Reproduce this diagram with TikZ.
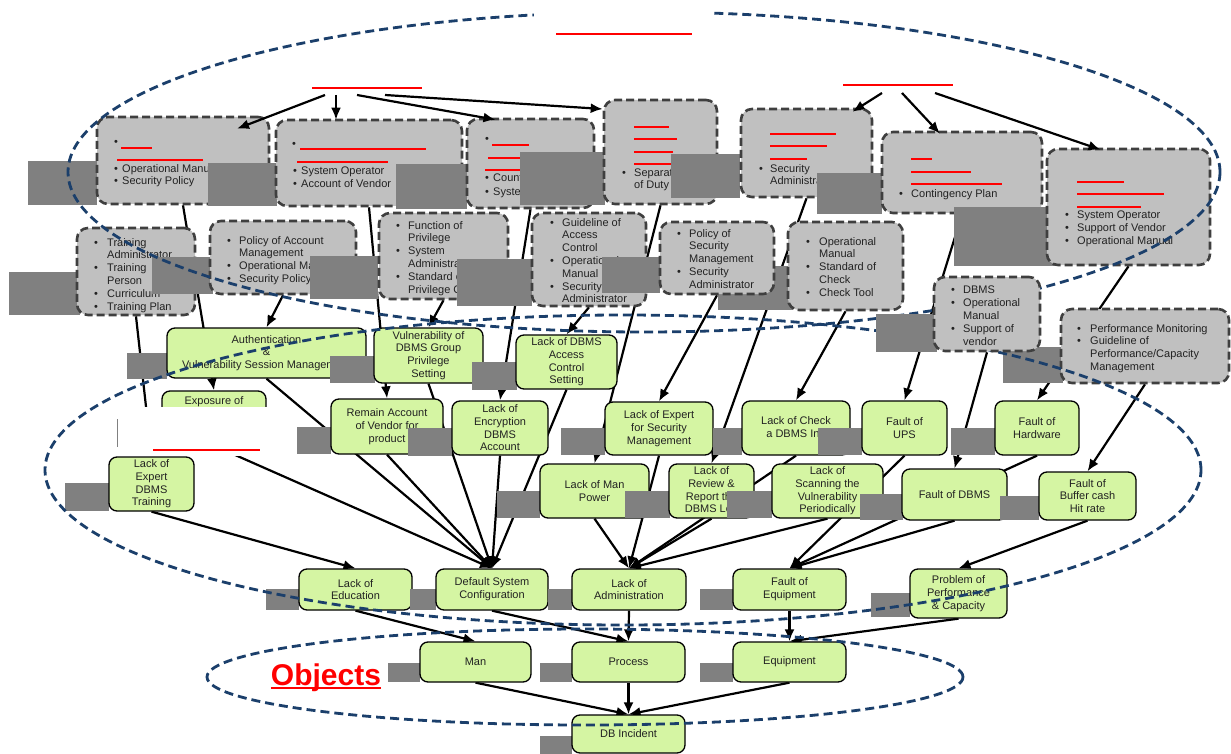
\documentclass[tikz,border=0pt]{standalone}
\usepackage{fontspec}
\setmainfont{Liberation Sans}
\usetikzlibrary{arrows.meta}
\definecolor{gfill}{HTML}{C0C0C0}
\definecolor{gline}{HTML}{3F3F3F}
\definecolor{dkc}{HTML}{808080}
\definecolor{lgreen}{HTML}{D5F5A3}
\definecolor{ellblue}{HTML}{1B3F6B}
\definecolor{txtc}{HTML}{222222}
\pgfdeclarelayer{bg}
\pgfsetlayers{bg,main}
\tikzset{
 gb/.style={draw=gline, fill=gfill, line width=2.6pt, dash pattern=on 8pt off 4pt, rounded corners=11pt, inner sep=0pt},
 gn/.style={draw=black, fill=lgreen, line width=1.3pt, rounded corners=8pt, inner sep=1pt, align=center, text=txtc, font=\fontsize{11}{12.7}\selectfont},
 lst/.style={anchor=north west, inner sep=0pt, align=left, text=txtc, font=\fontsize{11}{12.8}\selectfont},
 gt/.style={inner sep=0pt, text=txtc, font=\fontsize{11}{12.7}\selectfont},
 arr/.style={line width=2.2pt, -{Latex[length=12pt,width=10pt]}},
 ell/.style={draw=ellblue, line width=2.8pt, dash pattern=on 9pt off 5pt},
 redl/.style={draw=red, line width=1.4pt},
}
\newcommand\dkrect[4]{\fill[dkc] (#1,#2) rectangle (#3,#4);}
\newcommand\redln[4][1.4pt]{\draw[redl, line width=#1] (#2,#4) -- (#3,#4);}
\newcommand\grbox[5]{\node[gb, minimum width={(#4)-(#2)}, minimum height={(#5)-(#3)}] (#1) at ({((#2)+(#4))/2},{((#3)+(#5))/2}) {};}
\newcommand\grnode[6]{\node[gn, minimum width={(#4)-(#2)}, minimum height={(#5)-(#3)}] (#1) at ({((#2)+(#4))/2},{((#3)+(#5))/2}) {#6};}
\newcommand\bulx[1][10pt]{\makebox[#1][l]{\textbullet}}
\newcommand\indx[1][10pt]{\hspace*{#1}}
\begin{document}
\begin{tikzpicture}[x=1pt,y=-1pt]
\useasboundingbox (0,0) rectangle (1231,754);
\begin{pgfonlayer}{bg}\fill[white] (0,0) rectangle (1231,754);\end{pgfonlayer}

% ---------- top row of gray boxes
\dkrect{28}{161}{97}{205}
\grbox{g1}{97}{117}{269}{204}
\node[gt] (g1b) at (116,143) {\textbullet};
\redln{121}{152}{148}\redln{117}{203}{160}
\node[lst] (g1l) at (114,164) {\bulx[8pt]Operational Manual\\\bulx[8pt]Security Policy};
\dkrect{208}{163}{277}{206}
\grbox{g2}{276}{120}{462}{206}
\node[gt] (g2b) at (294,145) {\textbullet};
\redln{300}{426}{149}\redln{297}{388}{162}
\node[lst] (g2l) at (293,167) {\bulx[8pt]System Operator\\\bulx[8pt]Account of Vendor};
\dkrect{396}{164}{467}{209}
\grbox{g3}{467}{119}{594}{208}
\node[gt] (g3b) at (487,140) {\textbullet};
\redln{492}{529}{145}\redln{488}{530}{158}\redln{485}{530}{170}
\node[lst] (g3l) at (485,174) {\bulx[8pt]Count\\[1pt]\bulx[8pt]System};
\dkrect{520}{152}{605}{205}
\grbox{g4}{604}{100}{717}{204}
\redln{634}{669}{127}\redln{634}{677}{139}\redln{634}{673}{152}\redln{634}{680}{164}
\node[lst] (g4l) at (622,168) {\bulx[12pt]Separation\\\indx[12pt]of Duty};
\dkrect{671}{154}{740}{198}
\grbox{g5}{741}{109}{872}{197}
\redln{770}{836}{134}\redln{770}{827}{146}\redln{770}{807}{159}
\node[lst] (g5l) at (759,164) {\bulx[11pt]Security\\\indx[11pt]Administrator};
\dkrect{817}{173}{882}{214}
\grbox{g6}{882}{132}{1042}{213}
\redln{911}{932}{159}\redln{911}{971}{172}\redln{911}{1002}{184}
\node[lst] (g6l) at (899,189) {\bulx[12pt]Contingency Plan};
\dkrect{954}{207}{1058}{266}
\grbox{g7}{1047}{149}{1210}{265}
\redln{1077}{1124}{182}\redln{1077}{1164}{194}\redln{1077}{1141}{207}
\node[lst] (g7l) at (1065,211) {\bulx[12pt]System Operator\\\bulx[12pt]Support of Vendor\\\bulx[12pt]Operational Manual};

% title arrows
\coordinate (tl1) at (325,95);
\coordinate (tl2) at (336,95);
\coordinate (tl3) at (357,95);
\coordinate (tl4) at (385,95);
\coordinate (tr1) at (882,93);
\coordinate (tr2) at (902,93);
\coordinate (tr3) at (935,93);
\draw[arr] (tl1) -- ([shift={(54,13)}]g1.north);
\draw[arr] (tl2) -- ([shift={(-33,1)}]g2.north);
\draw[arr] (tl3) -- ([shift={(-35,2)}]g3.north);
\draw[arr] (tl4) -- ([shift={(0,-43)}]g4.west);
\draw[arr] (tr1) -- ([shift={(46,4)}]g5.north);
\draw[arr] (tr2) -- ([shift={(-22,3)}]g6.north);
\draw[arr] (tr3) -- ([shift={(-28,2)}]g7.north);

% ---------- second row of gray boxes
\dkrect{9}{272}{80}{315}
\grbox{h1}{77}{228}{195}{315}
\node[lst] (h1l) at (94,238) {\bulx[13pt]Training\\\indx[13pt]Administrator\\\bulx[13pt]Training\\\indx[13pt]Person\\\bulx[13pt]Curriculum\\\bulx[13pt]Training Plan};
\dkrect{152}{257}{213}{294}
\grbox{h2}{210}{221}{356}{294}
\node[lst] (h2l) at (227,236) {\bulx[12pt]Policy of Account\\\indx[12pt]Management\\\bulx[12pt]Operational Manual\\\bulx[12pt]Security Policy};
\dkrect{310}{256}{378}{299}
\grbox{h3}{379}{213}{508}{299}
\node[lst] (h3l) at (396,221) {\bulx[12pt]Function of\\\indx[12pt]Privilege\\\bulx[12pt]System\\\indx[12pt]Administrator\\\bulx[12pt]Standard of\\\indx[12pt]Privilege C};
\dkrect{457}{259}{532}{306}
\grbox{h4}{532}{213}{646}{306}
\node[lst] (h4l) at (550,218) {\bulx[12pt]Guideline of\\\indx[12pt]Access\\\indx[12pt]Control\\\bulx[12pt]Operational\\\indx[12pt]Manual\\\bulx[12pt]Security\\\indx[12pt]Administrator};
\dkrect{602}{257}{660}{293}
\dkrect{718}{266}{793}{310}
\grbox{h5}{660}{222}{774}{294}
\node[lst] (h5l) at (677,229) {\bulx[12pt]Policy of\\\indx[12pt]Security\\\indx[12pt]Management\\\bulx[12pt]Security\\\indx[12pt]Administrator};
\grbox{h6}{788}{222}{903}{310}
\node[lst] (h6l) at (806,237) {\bulx[13pt]Operational\\\indx[13pt]Manual\\\bulx[13pt]Standard of\\\indx[13pt]Check\\\bulx[13pt]Check Tool};
\dkrect{1003}{347}{1063}{383}
\grbox{h8}{1061}{309}{1229}{383}
\node[lst] (h8l) at (1077,324) {\bulx[13pt]Performance Monitoring\\\bulx[13pt]Guideline of\\\indx[13pt]Performance/Capacity\\\indx[13pt]Management};

% ---------- green nodes
\dkrect{127}{353}{167}{379}
\grnode{n1}{167}{328}{366}{378}{Authentication\\\&\\Vulnerability Session Management}
\dkrect{330}{356}{375}{383}
\grnode{n2}{374}{328}{483}{383}{Vulnerability of\\DBMS Group\\Privilege\\Setting}
\dkrect{472}{362}{517}{390}
\grnode{n3}{516}{335}{617}{389}{Lack of DBMS\\Access\\Control\\Setting}
\grnode{n4}{162}{391}{266}{445}{}
\node[gt] (n4t) at (214,402) {Exposure of};
\dkrect{296}{427}{331}{454}
\grnode{n5}{331}{399}{443}{454}{Remain Account\\of Vendor for\\product}
\dkrect{408}{428}{452}{456}
\grnode{n6}{452}{401}{548}{455}{Lack of\\Encryption\\DBMS\\Account}
\dkrect{561}{428}{605}{455}
\grnode{n7}{605}{402}{713}{455}{Lack of Expert\\for Security\\Management}
\dkrect{713}{428}{742}{455}
\grnode{n8}{742}{401}{850}{455}{Lack of Check\\a DBMS Inp}
\dkrect{818}{428}{862}{455}
\grnode{n9}{862}{401}{947}{455}{Fault of\\UPS}
\dkrect{951}{428}{995}{455}
\grnode{n10}{995}{401}{1079}{455}{Fault of\\Hardware}
\fill[white] (117,407) rectangle (297,456);
\draw[dkc, line width=0.8pt] (117,419) -- (117,447);
\dkrect{65}{483}{109}{511}
\grnode{n11}{109}{457}{194}{511}{Lack of\\Expert\\DBMS\\Training}
\dkrect{497}{491}{540}{518}
\grnode{n12}{540}{464}{649}{518}{Lack of Man\\Power}
\dkrect{625}{491}{670}{518}
\grnode{n13}{669}{464}{754}{518}{Lack of\\Review \&\\Report the\\DBMS Log}
\dkrect{727}{491}{772}{518}
\grnode{n14}{772}{464}{883}{518}{Lack of\\Scanning the\\Vulnerability\\Periodically}
\dkrect{860}{494}{903}{520}
\grnode{n15}{902}{469}{1007}{520}{Fault of DBMS}
\dkrect{1000}{496}{1039}{520}
\grnode{n16}{1039}{472}{1136}{520}{Fault of\\Buffer cash\\Hit rate}
\dkrect{266}{589}{299}{610}
\grnode{n17}{299}{569}{412}{610}{Lack of\\Education}
\dkrect{410}{589}{436}{610}
\grnode{n18}{436}{569}{548}{610}{Default System\\Configuration}
\dkrect{548}{589}{572}{610}
\grnode{n19}{572}{569}{686}{610}{Lack of\\Administration}
\dkrect{700}{589}{733}{610}
\grnode{n20}{733}{569}{846}{610}{Fault of\\Equipment}
\dkrect{871}{593}{910}{617}
\grnode{n21}{910}{569}{1007}{618}{Problem of\\Performance\\\& Capacity}
\dkrect{388}{663}{420}{682}
\grnode{man}{420}{642}{531}{682}{Man}
\dkrect{540}{663}{572}{682}
\grnode{proc}{572}{642}{685}{682}{Process}
\dkrect{700}{663}{733}{682}
\grnode{equip}{733}{642}{846}{682}{Equipment}
\dkrect{540}{736}{572}{754}
\grnode{db}{572}{715}{685}{753}{DB Incident}

% ---------- dashed ellipses
\draw[ell] (644,172) ellipse [x radius=576pt, y radius=160pt];
\fill[white] (534,2) rectangle (712,26);
\draw[ell] (623,470) ellipse [x radius=578pt, y radius=155pt];
\draw[ell] (585,677) ellipse [x radius=378pt, y radius=48pt];

% box drawn above the ellipses
\dkrect{876}{314}{937}{352}
\grbox{h7}{934}{277}{1040}{351}
\node[lst] (h7l) at (951,286) {\bulx[12pt]DBMS\\\bulx[12pt]Operational\\\indx[12pt]Manual\\\bulx[12pt]Support of\\\indx[12pt]vendor};

% ---------- connectors (on the back layer, behind all boxes)
\begin{pgfonlayer}{bg}
\draw[arr] (g1.south) -- (n4.north);
\draw[arr] (g2.south) -- (n5.north);
\draw[arr] (g3.south) -- (n6.north);
\draw[arr] (g4.south) -- (n12.north);
\draw[arr] (g5.south) -- (n13.north);
\draw[arr] (g6.south) -- (n9.north);
\draw[arr] (g7.south) -- (n10.north);
\draw[arr] (h1.south) -- (n11.north);
\draw[arr] (h2.south) -- (n1.north);
\draw[arr] (h3.south) -- (n2.north);
\draw[arr] (h4.south) -- (n3.north);
\draw[arr] (h5.south) -- (n7.north);
\draw[arr] (h6.south) -- (n8.north);
\draw[arr] (h7.south) -- (n15.north);
\draw[arr] (h8.south) -- (n16.north);
\draw[arr] (n1.south) -- (n18.north);
\draw[arr] (n4.south) -- (n18.north);
\draw[arr] (n5.south) -- (n18.north);
\draw[arr] (n2.south) -- (n18.north);
\draw[arr] (n6.south) -- (n18.north);
\draw[arr] (n3.south) -- (n18.north);
\draw[arr] (n11.south) -- (n17.north);
\draw[arr] (n12.south) -- (n19.north);
\draw[arr] (n7.south) -- (n19.north);
\draw[arr] (n13.south) -- (n19.north);
\draw[arr] (n8.south) -- (n19.north);
\draw[arr] (n14.south) -- (n19.north);
\draw[arr] (n9.south) -- (n20.north);
\draw[arr] (n15.south) -- (n20.north);
\draw[arr] (n10.south) -- (n20.north);
\draw[arr] (n16.south) -- (n21.north);
\draw[arr] (n17.south) -- (man.north);
\draw[arr] (n18.south) -- (proc.north);
\draw[arr] (n19.south) -- (proc.north);
\draw[arr] (n20.south) -- (equip.north);
\draw[arr] (n21.south) -- (equip.north);
\draw[arr] (man.south) -- (db.north);
\draw[arr] (proc.south) -- (db.north);
\draw[arr] (equip.south) -- (db.north);
\end{pgfonlayer}

% ---------- red title underlines
\redln[2pt]{556}{692}{34}
\redln[2pt]{312}{422}{88}
\redln[1.2pt]{843}{953}{85}
\redln[2.6pt]{153}{260}{450}

\node[anchor=base, inner sep=0pt, text=red, font=\fontsize{30}{32}\selectfont\bfseries] (obj) at (326,685) {Objects};
\draw[red, line width=2pt] ([yshift=-3pt]obj.base west) -- ([yshift=-3pt]obj.base east);
\end{tikzpicture}
\end{document}
